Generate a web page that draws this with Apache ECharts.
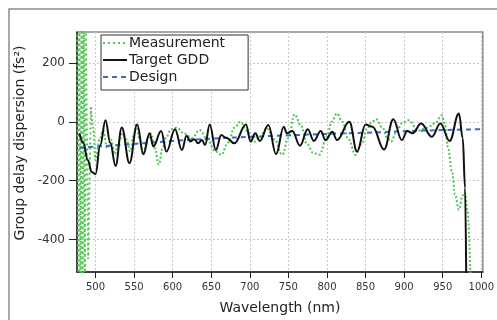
<!DOCTYPE html>
<html>
<head>
<meta charset="utf-8">
<script src="https://cdn.jsdelivr.net/npm/echarts@6/dist/echarts.min.js"></script>
<style>
html,body{margin:0;padding:0;background:#fff;}
#c{width:497px;height:320px;}
</style>
</head>
<body>
<div id="c"></div>
<script>
// Axis ticks
const xTicks = [500, 550, 600, 650, 700, 750, 800, 850, 900, 950, 1000];
const yTicks = [-400, -200, 0, 200];

// Measurement: wild oscillation at the short-wavelength edge
const measBandX = [476.3, 477.7, 479.1, 480.5, 481.9, 483.3, 484.7, 486.1, 487.3, 490.5, 494];
const measBandY = [330, -530, 330, -530, 330, -530, 330, -530, 330, -466, 50];

// Measurement: main part
const measX = [494, 497, 500, 505, 510, 515, 520, 525, 530, 535, 540, 545, 550, 553, 557, 562, 567, 572, 577, 582, 587, 592, 598, 605, 615, 625, 635, 645, 655, 663, 672, 680, 688, 696, 704, 712, 722, 732, 742, 750, 758, 766, 774, 782, 790, 800, 806, 813, 820, 828, 837, 845, 852, 858, 864, 872, 878, 883, 890, 897, 906, 918, 930, 940, 949, 953, 957, 962, 966, 971, 976, 979, 982, 986];
const measY = [50, -20, -130, -60, -30, -90, -60, -110, -70, -40, -60, -100, -40, -5, -60, -110, -60, -40, -90, -145, -90, -50, -25, -20, -40, -55, -28, -60, -100, -112, -70, -20, 0, -30, -70, -55, -22, -60, -112, -55, 25, -10, -75, -105, -112, -50, 0, 28, 0, -60, -112, -75, -25, 0, 9, -20, -55, -67, -35, -5, 5, -30, -20, -5, 22, -10, -90, -169, -247, -298, -250, -240, -300, -530];

// Target GDD
const targetX = [479, 484, 490, 495, 500, 506, 513, 519, 526, 534, 544, 554, 562, 570, 575, 585, 592, 603, 612, 618, 623, 628, 633, 638, 642, 648, 656, 663, 669, 680, 695, 701, 707, 713, 724, 734, 744, 748, 755, 765, 775, 783, 792, 798, 807, 813, 829, 839, 850, 859, 874, 886, 897, 904, 911, 922, 936, 947, 959, 971, 976, 979, 980.5];
const targetY = [-39, -70, -130, -170, -178, -80, 5, -70, -150, -19, -140, -9, -110, -39, -84, -31, -101, -25, -96, -47, -67, -59, -73, -62, -79, -9, -96, -45, -54, -73, -9, -67, -39, -65, -11, -110, -17, -39, -31, -81, -25, -65, -31, -62, -34, -62, 0, -101, -9, -17, -94, 9, -62, -31, -39, -6, -51, -6, -65, 28, -56, -225, -530];

// Design
const designX = [479, 550, 600, 650, 700, 750, 800, 850, 900, 950, 1002];
const designY = [-88, -75, -65, -57, -51, -46, -41, -37, -32, -28, -25];

const zip = (xs, ys) => xs.map((x, i) => [x, ys[i]]);

const GREEN = '#52c452';
const FONT = 'DejaVu Sans';

const chart = echarts.init(document.getElementById('c'), null, {renderer: 'canvas'});
chart.setOption({
  animation: false,
  backgroundColor: '#fff',
  graphic: [{
    type: 'rect', silent: true, z: -10,
    shape: {x: 9, y: 9, width: 520, height: 340},
    style: {fill: 'none', stroke: '#8c8c8c', lineWidth: 1.5}
  }],
  grid: {left: 77, top: 32, right: 8, bottom: 46, show: true, borderColor: '#8a8a8a', borderWidth: 1.5, backgroundColor: 'transparent'},
  legend: {
    orient: 'vertical', left: 101, top: 35,
    itemWidth: 24, itemHeight: 14, itemGap: 3,
    padding: [1, 23, 6, 1],
    backgroundColor: '#fff', borderColor: '#333', borderWidth: 1,
    itemStyle: {opacity: 0},
    textStyle: {fontFamily: FONT, fontSize: 14, color: '#222', padding: [0, 0, 0, -3]},
    data: ['Measurement', 'Target GDD', 'Design']
  },
  xAxis: {
    type: 'value', min: 476, max: 1002,
    name: 'Wavelength (nm)', nameLocation: 'middle', nameGap: 29,
    nameTextStyle: {fontFamily: FONT, fontSize: 14, color: '#222'},
    axisLine: {show: true, onZero: false, lineStyle: {color: '#222', width: 1.5}},
    axisTick: {show: true, length: 6, customValues: xTicks, lineStyle: {color: '#222'}},
    axisLabel: {customValues: xTicks, margin: 10, fontFamily: FONT, fontSize: 10, color: '#333', formatter: v => String(v)},
    splitLine: {show: true, lineStyle: {color: '#c8c8c8', type: [2, 2], width: 1}}
  },
  yAxis: {
    type: 'value', min: -510, max: 305,
    name: 'Group delay dispersion (fs²)', nameLocation: 'middle', nameGap: 49,
    nameTextStyle: {fontFamily: FONT, fontSize: 14, color: '#222', padding: [0, 0, 0, 18]},
    axisLine: {show: true, onZero: false, lineStyle: {color: '#222', width: 1.5}},
    axisTick: {show: true, length: 8, customValues: yTicks, lineStyle: {color: '#222'}},
    axisLabel: {customValues: yTicks, margin: 12, fontFamily: FONT, fontSize: 12, color: '#333', formatter: v => String(v)},
    splitLine: {show: true, lineStyle: {color: '#c8c8c8', type: [2, 2], width: 1}}
  },
  series: [
    {
      name: 'Measurement', type: 'line', data: zip(measBandX, measBandY),
      showSymbol: false, symbol: 'none', smooth: false, clip: true, z: 2,
      lineStyle: {color: GREEN, width: 2, type: [2, 3]}, itemStyle: {color: GREEN}
    },
    {
      name: 'Measurement', type: 'line', data: zip(measX, measY),
      showSymbol: false, symbol: 'none', smooth: 0.4, smoothMonotone: 'x', clip: true, z: 2,
      lineStyle: {color: GREEN, width: 2, type: [2, 2]}, itemStyle: {color: GREEN}
    },
    {
      name: 'Target GDD', type: 'line', data: zip(targetX, targetY),
      showSymbol: false, symbol: 'none', smooth: 0.4, smoothMonotone: 'x', clip: true, z: 4,
      lineStyle: {color: '#111', width: 2}, itemStyle: {color: '#111'}
    },
    {
      name: 'Design', type: 'line', data: zip(designX, designY),
      showSymbol: false, symbol: 'none', smooth: 0.4, clip: true, z: 3,
      lineStyle: {color: '#3a6cc8', width: 2, type: [5, 4]}, itemStyle: {color: '#3a6cc8'}
    }
  ]
});
</script>
</body>
</html>
